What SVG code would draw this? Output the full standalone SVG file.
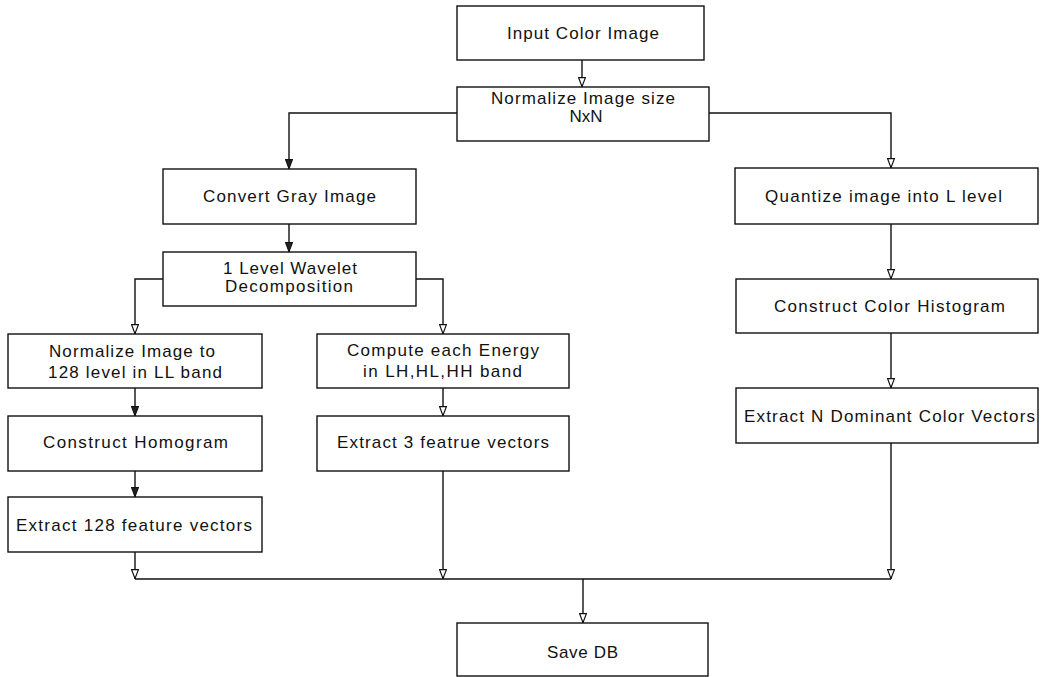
<svg xmlns="http://www.w3.org/2000/svg" width="1041" height="677" viewBox="0 0 1041 677">
<style>
.box{fill:#fff;stroke:#111;stroke-width:1.4}
.lbl{font-family:"Liberation Sans",Arial,sans-serif;font-size:17px;fill:#111;text-anchor:middle}
.wire{fill:none;stroke:#111;stroke-width:1.4}
</style>
<defs>
<marker id="ah" viewBox="0 0 10 8" refX="10" refY="4" markerWidth="10" markerHeight="8" markerUnits="userSpaceOnUse" orient="auto">
<path d="M0.6,0.6 L9.6,4 L0.6,7.4 z" fill="#fff" stroke="#111" stroke-width="1.2"/>
</marker>
<marker id="ahf" viewBox="0 0 10 8" refX="10" refY="4" markerWidth="10" markerHeight="8" markerUnits="userSpaceOnUse" orient="auto">
<path d="M0.6,0.6 L9.6,4 L0.6,7.4 z" fill="#222" stroke="#111" stroke-width="1.2"/>
</marker>
</defs>
<g id="connectors">
<path class="wire" d="M582,60 V87" marker-end="url(#ah)"/>
<path class="wire" d="M457,113 H289 V169" marker-end="url(#ahf)"/>
<path class="wire" d="M709,113 H891 V168" marker-end="url(#ah)"/>
<path class="wire" d="M289,224 V252" marker-end="url(#ahf)"/>
<path class="wire" d="M891,224 V279" marker-end="url(#ah)"/>
<path class="wire" d="M891,333 V388" marker-end="url(#ah)"/>
<path class="wire" d="M163,279 H135 V334" marker-end="url(#ah)"/>
<path class="wire" d="M416,279 H443 V334" marker-end="url(#ah)"/>
<path class="wire" d="M135,388 V416" marker-end="url(#ahf)"/>
<path class="wire" d="M443,388 V416" marker-end="url(#ah)"/>
<path class="wire" d="M135,471 V497" marker-end="url(#ahf)"/>
<path class="wire" d="M135,552 V579" marker-end="url(#ah)"/>
<path class="wire" d="M443,471 V579" marker-end="url(#ah)"/>
<path class="wire" d="M891,443 V579" marker-end="url(#ah)"/>
<path class="wire" d="M135,579 H891"/>
<path class="wire" d="M583,579 V623" marker-end="url(#ah)"/>
</g>
<g id="n1"><rect class="box" x="457" y="6" width="247" height="54"/><text class="lbl" x="583" y="39" textLength="152" lengthAdjust="spacing">Input Color Image</text></g>
<g id="n2"><rect class="box" x="457" y="87" width="252" height="54"/><text class="lbl" x="583" y="104" textLength="184" lengthAdjust="spacing">Normalize Image size</text><text class="lbl" x="586" y="122">NxN</text></g>
<g id="n3"><rect class="box" x="163" y="169" width="253" height="55"/><text class="lbl" x="289.5" y="202" textLength="173" lengthAdjust="spacing">Convert Gray Image</text></g>
<g id="n4"><rect class="box" x="735" y="168" width="303" height="56"/><text class="lbl" x="883.5" y="202" textLength="237" lengthAdjust="spacing">Quantize image into L level</text></g>
<g id="n5"><rect class="box" x="163" y="252" width="253" height="54"/><text class="lbl" x="290" y="274" textLength="134" lengthAdjust="spacing">1 Level Wavelet</text><text class="lbl" x="289" y="292" textLength="128" lengthAdjust="spacing">Decomposition</text></g>
<g id="n6"><rect class="box" x="8" y="334" width="254" height="54"/><text class="lbl" x="132" y="357" textLength="166" lengthAdjust="spacing">Normalize Image to</text><text class="lbl" x="135" y="378" textLength="174" lengthAdjust="spacing">128 level in LL band</text></g>
<g id="n7"><rect class="box" x="317" y="334" width="252" height="54"/><text class="lbl" x="443" y="356" textLength="192" lengthAdjust="spacing">Compute each Energy</text><text class="lbl" x="442.5" y="377" textLength="159" lengthAdjust="spacing">in LH,HL,HH band</text></g>
<g id="n8"><rect class="box" x="8" y="416" width="254" height="55"/><text class="lbl" x="135.5" y="448" textLength="185" lengthAdjust="spacing">Construct Homogram</text></g>
<g id="n9"><rect class="box" x="317" y="416" width="252" height="55"/><text class="lbl" x="443" y="448" textLength="212" lengthAdjust="spacing">Extract 3 featrue vectors</text></g>
<g id="n10"><rect class="box" x="736" y="279" width="302" height="54"/><text class="lbl" x="889.5" y="312" textLength="231" lengthAdjust="spacing">Construct Color Histogram</text></g>
<g id="n11"><rect class="box" x="736" y="388" width="302" height="55"/><text class="lbl" x="889.5" y="422" textLength="291" lengthAdjust="spacing">Extract N Dominant Color Vectors</text></g>
<g id="n12"><rect class="box" x="8" y="497" width="254" height="55"/><text class="lbl" x="134" y="531" textLength="236" lengthAdjust="spacing">Extract 128 feature vectors</text></g>
<g id="n13"><rect class="box" x="457" y="623" width="251" height="53"/><text class="lbl" x="582.5" y="658" textLength="71" lengthAdjust="spacing">Save DB</text></g>
</svg>
